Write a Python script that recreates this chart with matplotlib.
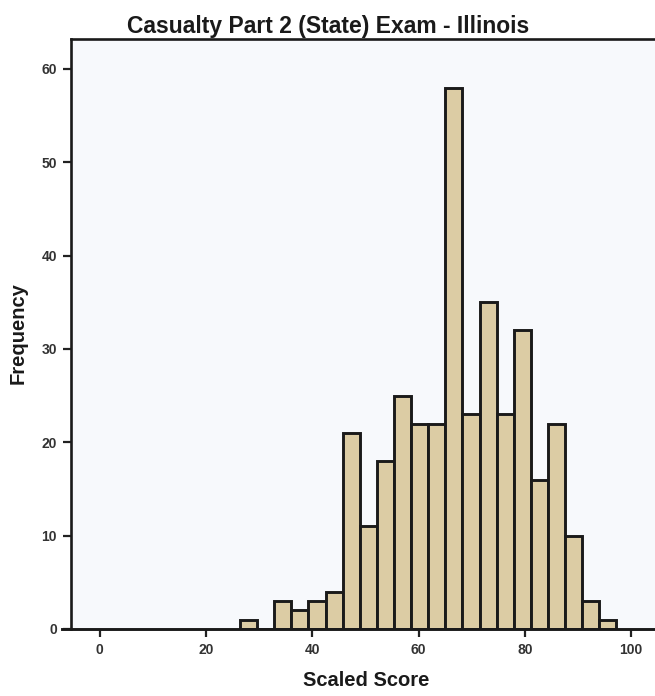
import numpy as np
import matplotlib.pyplot as plt

# histogram bins (scaled score) and counts
bin_start = 26.4
bin_width = 3.22
counts = [1, 0, 3, 2, 3, 4, 21, 11, 18, 25, 22, 22, 58, 23, 35, 23, 32, 16, 22, 10, 3, 1]
x_ticks = [0, 20, 40, 60, 80, 100]
y_ticks = [0, 10, 20, 30, 40, 50, 60]

title = "Casualty Part 2 (State) Exam - Illinois"
xlabel = "Scaled Score"
ylabel = "Frequency"

plt.rcParams['font.family'] = ['Liberation Sans', 'DejaVu Sans']

fig = plt.figure(figsize=(6.55, 6.96), dpi=100)
ax = fig.add_axes([71 / 655, 1 - 629 / 696, 1 - 71 / 655, (629 - 39) / 696])
ax.set_facecolor('#f7f9fc')

edges = bin_start + bin_width * np.arange(len(counts))
ax.bar(edges, counts, width=bin_width, align='edge',
       color='#dccca4', edgecolor='#1a1a1a', linewidth=2.1, zorder=3)

ax.set_xlim(-5.4, 104.5)
ax.set_ylim(0, 63.2)
ax.set_xticks(x_ticks)
ax.set_yticks(y_ticks)
ax.tick_params(axis='both', direction='out', length=6, width=1.6,
               labelsize=10, colors='#222222', labelcolor='#333333', pad=4)
for lab in ax.get_xticklabels() + ax.get_yticklabels():
    lab.set_fontweight('bold')

ax.spines['right'].set_visible(False)
ax.spines['bottom'].set_visible(False)
ax.spines['left'].set_linewidth(1.9)
ax.spines['top'].set_linewidth(1.9)
ax.spines['left'].set_color('#1a1a1a')
ax.spines['top'].set_color('#1a1a1a')
# baseline extends a little left of the axis
ax.axhline(0, xmin=-0.015, xmax=1, color='#1a1a1a', lw=2.1, clip_on=False, zorder=4)

fig.text(328 / 655, 1 - 26 / 696, title, ha='center', va='center',
         fontsize=16.5, fontweight='bold', color='#1a1a1a')
fig.text(366 / 655, 1 - 681 / 696, xlabel, ha='center', va='center',
         fontsize=14.5, fontweight='bold', color='#1a1a1a')
fig.text(18 / 655, 1 - 333 / 696, ylabel, ha='center', va='center', rotation=90,
         fontsize=14.5, fontweight='bold', color='#1a1a1a')

fig.savefig('out.png', dpi=100)
